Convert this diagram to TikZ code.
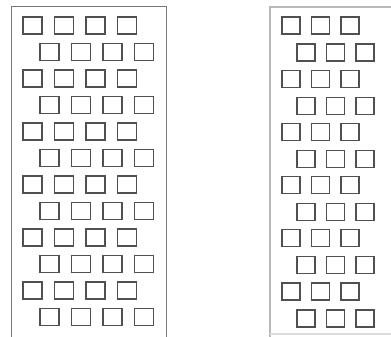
\documentclass[tikz,border=0pt]{standalone}
\usepackage{tikz}
\usetikzlibrary{positioning,calc}
\definecolor{BoxGray}{RGB}{80,80,80}
\definecolor{FrameGray}{RGB}{120,120,120}
\definecolor{FrameLight}{RGB}{185,185,185}

\begin{document}
\begin{tikzpicture}[
    x=1pt,
    y=-1pt,
    cell/.style={
        draw=BoxGray,
        line width=1.3pt,
        inner sep=0pt,
        minimum width=19pt,
        minimum height=17pt
    },
    smallcell/.style={
        cell,
        minimum width=18pt
    },
    frame/.style={
        draw=FrameGray,
        line width=0.8pt
    },
    lightframe/.style={
        draw=FrameLight,
        line width=1.2pt
    }
]

\useasboundingbox (0,0) rectangle (391,337);

% =========================
% left panel: four per row
% =========================
\coordinate (lbl) at (11.5,337);
\coordinate (ltl) at (11.5,6);
\coordinate (ltr) at (166,6);
\coordinate (lbr) at (166,337);
\draw[frame] (lbl) -- (ltl) -- (ltr) -- (lbr);

\foreach \r in {0,...,5}{
    \foreach \i in {0,...,3}{
        \node[cell] (la-\r-\i) at (32.5+31.5*\i, 25.5+53*\r) {};
        \node[cell] (lb-\r-\i) at (49.5+31.5*\i, 52+53*\r) {};
    }
}

% =========================
% right panel: three per row
% =========================
\coordinate (rbl) at (270,337);
\coordinate (rtl) at (270,7);
\coordinate (rtr) at (391,7);
\coordinate (rfl) at (270,334);
\coordinate (rfr) at (391,334);
\draw[lightframe] (rbl) -- (rtl) -- (rtr);
\draw[lightframe, draw=FrameLight!50] (rfl) -- (rfr);

\foreach \r in {0,...,5}{
    \foreach \i in {0,...,2}{
        \node[smallcell] (ra-\r-\i) at (291+29.5*\i, 25.5+53.2*\r) {};
        \node[smallcell] (rb-\r-\i) at (306+29.5*\i, 52.5+53.2*\r) {};
    }
}

\end{tikzpicture}
\end{document}
